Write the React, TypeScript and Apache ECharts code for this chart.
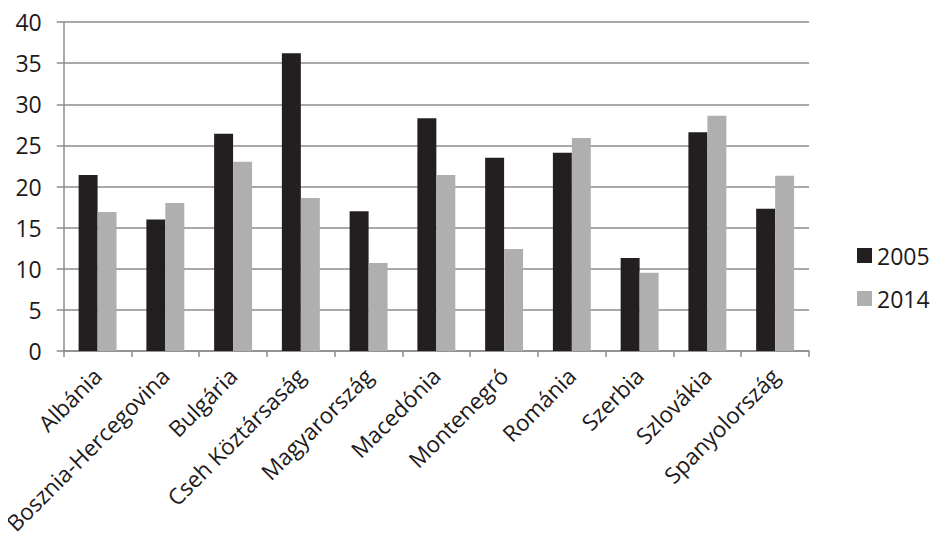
import React, { useEffect, useRef } from "react";
import * as echarts from "echarts";

const categories = [
  "Albánia",
  "Bosznia-Hercegovina",
  "Bulgária",
  "Cseh Köztársaság",
  "Magyarország",
  "Macedónia",
  "Montenegró",
  "Románia",
  "Szerbia",
  "Szlovákia",
  "Spanyolország",
];
const values2005 = [21.4, 16.0, 26.4, 36.2, 17.0, 28.3, 23.5, 24.1, 11.3, 26.6, 17.3];
const values2014 = [16.9, 18.0, 23.0, 18.6, 10.7, 21.4, 12.4, 25.9, 9.5, 28.6, 21.3];
const seriesNames = ["2005", "2014"];

const FONT = "'Open Sans', sans-serif";
const TEXT = "#1e1a1b";
const GRID = "#8c8c8c";

export default function App() {
  const ref = useRef<HTMLDivElement>(null);
  useEffect(() => {
    if (!ref.current) return;
    const chart = echarts.init(ref.current, null, { renderer: "svg" });
    chart.setOption({
      animation: false,
      backgroundColor: "#ffffff",
      textStyle: { fontFamily: FONT },
      grid: { left: 63, right: 132, top: 22, bottom: 208, containLabel: false },
      legend: {
        orient: "vertical",
        left: 852,
        top: 239,
        itemWidth: 15,
        itemHeight: 15,
        itemGap: 20,
        icon: "rect",
        textStyle: { fontFamily: FONT, fontSize: 23, color: TEXT, padding: [0, 0, 0, 0] },
        data: seriesNames,
      },
      xAxis: {
        type: "category",
        data: categories,
        axisLine: { show: true, lineStyle: { color: GRID, width: 1.5 } },
        axisTick: { show: true, length: 6, lineStyle: { color: GRID, width: 1.5 } },
        axisLabel: {
          rotate: 45,
          interval: 0,
          margin: 21,
          fontFamily: FONT,
          fontSize: 22.5,
          color: TEXT,
        },
      },
      yAxis: {
        type: "value",
        min: 0,
        max: 40,
        interval: 5,
        axisLine: { show: true, lineStyle: { color: GRID, width: 1.5 } },
        axisTick: { show: true, length: 7, lineStyle: { color: GRID, width: 1.5 } },
        splitLine: { show: true, lineStyle: { color: GRID, width: 1.5 } },
        axisLabel: { fontFamily: FONT, fontSize: 23, color: TEXT, margin: 22 },
      },
      series: [
        {
          name: seriesNames[0],
          type: "bar",
          data: values2005,
          itemStyle: { color: "#231f20" },
          barGap: "0%",
          barCategoryGap: "44%",
        },
        {
          name: seriesNames[1],
          type: "bar",
          data: values2014,
          itemStyle: { color: "#afafaf" },
          barGap: "0%",
          barCategoryGap: "44%",
        },
      ],
    });
    return () => chart.dispose();
  }, []);
  return <div ref={ref} style={{ width: 941, height: 559, margin: -8 }} />;
}
